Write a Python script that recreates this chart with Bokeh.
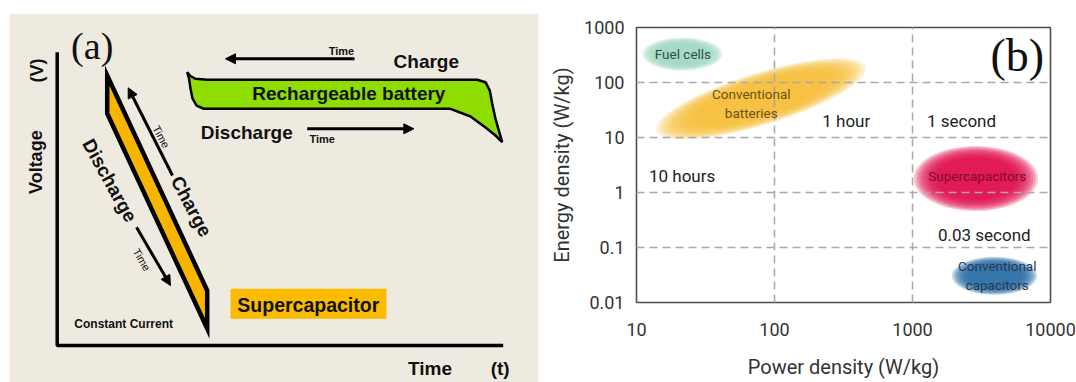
import numpy as np
from bokeh.plotting import figure
from bokeh.layouts import row
from bokeh.models import Range1d, FixedTicker, Arrow, NormalHead, ColumnDataSource
from bokeh.core.properties import value
from bokeh.embed import file_html
from bokeh.resources import INLINE

# ================= Panel (b) data : Ragone plot =================
power_ticks = [10, 100, 1000, 10000]
power_tick_labels = ["10", "100", "1000", "10000"]
energy_ticks = [0.01, 0.1, 1, 10, 100, 1000]
energy_tick_labels = ["0.01", "0.1", "1", "10", "100", "1000"]

# axis-aligned device regions (power W/kg, energy Wh/kg)
region_names = ["Fuel cells", "Supercapacitors", "Conventional capacitors"]
region_power_lo = [11, 1020, 1930]
region_power_hi = [42, 8100, 7990]
region_energy_lo = [164, 0.46, 0.0138]
region_energy_hi = [655, 7.0, 0.0677]
region_colors = ["#a3d9c6", "#e3124f", "#2f6fa7"]

# conventional batteries: elongated region between two end points
battery_power_ends = [14.0, 456]
battery_energy_ends = [13.2, 193]
battery_color = "#f6c13c"

# time-constant annotations
time_labels = ["10 hours", "1 hour", "1 second", "0.03 second"]
time_label_power = [21.4, 331, 2265, 3311]
time_label_energy = [2.01, 20.1, 20.1, 0.168]

# region labels
region_label_text = ["Fuel cells", "Conventional", "batteries",
                     "Supercapacitors", "Conventional", "capacitors"]
region_label_power = [21.7, 67.9, 67.9, 2944, 4111, 4111]
region_label_energy = [336, 61.5, 27.8, 2.01, 0.0465, 0.021]
region_label_colors = ["#2f4f4a", "#6b5214", "#6b5214",
                       "#7d0d2b", "#243a55", "#243a55"]

# ================= Panel (a) data : schematic (panel pixels) =================
battery_x = [186.7, 190, 195, 206.7, 476.7, 485, 489.3, 491.7, 495, 499.3, 501.7,
             495, 485, 470, 450, 203.3, 196, 192, 190, 188.5]
battery_y = [71.7, 75.5, 78.3, 79.3, 79.3, 81.7, 90, 103.3, 118.3, 133.3, 141.7,
             135, 127, 116, 108.3, 108.3, 105, 98, 88, 78]
supercap_x = [106.7, 206.7, 206.7, 106.7]
supercap_y = [75, 290, 328, 113]
axis_x = [56.7, 56.7, 502.7]
axis_y = [51.7, 345, 345]
arrow_x_start = [354, 306.7, 172, 136]
arrow_y_start = [58.3, 128.3, 175, 226.7]
arrow_x_end = [225, 413.3, 127.7, 170]
arrow_y_end = [58.3, 128.3, 87.3, 285]

W, H = 1076, 382
WA = 540

# ================= Panel (a) =================
pa = figure(width=WA, height=H, x_range=Range1d(0, WA), y_range=Range1d(H, 0),
            output_backend="svg", toolbar_location=None, min_border=0,
            x_axis_location=None, y_axis_location=None)
pa.frame_align = False
pa.grid.visible = False
pa.outline_line_color = None
pa.background_fill_color = "white"
pa.border_fill_color = "white"

pa.quad(left=[9], right=[538], top=[13.3], bottom=[H], fill_color="#eeeae0", line_color=None)

pa.line(axis_x, axis_y, line_color="black", line_width=3.5)
pa.patch(battery_x, battery_y, fill_color="#8fdd00", line_color="black", line_width=2.5)
pa.patch(supercap_x, supercap_y, fill_color="#f7b500", line_color="black", line_width=4.5,
         line_join="miter")
pa.quad(left=[230], right=[386], top=[288.3], bottom=[318.3], fill_color="#fbbb00", line_color=None)

asrc = ColumnDataSource(dict(xs=arrow_x_start, ys=arrow_y_start, xe=arrow_x_end, ye=arrow_y_end))
pa.add_layout(Arrow(end=NormalHead(size=10, fill_color="black", line_color="black", line_width=1),
                    x_start="xs", y_start="ys", x_end="xe", y_end="ye", source=asrc,
                    line_width=3, line_color="black"))

SANS = value("Liberation Sans")
def atext(x, y, t, size, style="bold", angle=0.0, font=SANS, baseline="middle"):
    pa.text(x=[x], y=[y], text=[t], text_font=font, text_font_size=size,
            text_font_style=style, angle=angle, text_align="center",
            text_baseline=baseline, text_color="#111111")

atext(91.7, 45.8, "(a)", "38px", style="normal", font=value("Liberation Serif"))
atext(35, 161.7, "Voltage", "18px", angle=np.pi / 2)
atext(36, 70, "(V)", "18px", angle=np.pi / 2)
atext(425.8, 60.7, "Charge", "19px")
atext(341, 50, "Time", "11px")
atext(348.3, 93.3, "Rechargeable battery", "19px")
atext(246.3, 131.7, "Discharge", "19px")
atext(321.7, 138.3, "Time", "11px")
atext(160.8, 136.2, "Time", "11px", style="normal", angle=np.radians(-62))
atext(190.8, 205.8, "Charge", "19px", angle=np.radians(-62))
atext(109.2, 180, "Discharge", "19px", angle=np.radians(-61))
atext(141.3, 259.2, "Time", "11px", style="normal", angle=np.radians(-60))
atext(123.2, 323.3, "Constant Current", "12px")
atext(307.8, 304, "Supercapacitor", "19.5px")
atext(429.5, 368, "Time", "19px")
atext(499.7, 368, "(t)", "19px")

# ================= Panel (b) =================
pb = figure(width=W - WA, height=H, x_axis_type="log", y_axis_type="log",
            x_range=Range1d(10, 10000), y_range=Range1d(0.01, 1000),
            output_backend="svg", toolbar_location=None,
            min_border_left=96, min_border_right=26, min_border_top=27, min_border_bottom=80,
            x_axis_label="Power density (W/kg)", y_axis_label="Energy density (W/kg)")
pb.frame_align = False
pb.background_fill_color = "white"
pb.border_fill_color = "white"
pb.outline_line_color = "#4d4d4d"
pb.outline_line_width = 1.6

FX = 414 / 3.0   # pixels per decade (x)
FY = 275 / 5.0   # pixels per decade (y)
tt = np.linspace(0, 2 * np.pi, 120)

def blurred_ellipse(cx, cy, a_px, b_px, ang, color, layers=11):
    for s in np.linspace(1.0, 0.62, layers):
        ex = a_px * s * np.cos(tt)
        ey = b_px * s * np.sin(tt)
        rx = ex * np.cos(ang) - ey * np.sin(ang)
        ry = ex * np.sin(ang) + ey * np.cos(ang)
        pb.patch(10 ** (cx + rx / FX), 10 ** (cy + ry / FY), fill_color=color,
                 fill_alpha=0.24, line_color=None)

for plo, phi, elo, ehi, col in zip(region_power_lo, region_power_hi,
                                   region_energy_lo, region_energy_hi, region_colors):
    cx = (np.log10(plo) + np.log10(phi)) / 2
    cy = (np.log10(elo) + np.log10(ehi)) / 2
    a = (np.log10(phi) - np.log10(plo)) / 2 * FX
    b = (np.log10(ehi) - np.log10(elo)) / 2 * FY
    blurred_ellipse(cx, cy, a, b, 0.0, col)

lx = np.log10(battery_power_ends)
ly = np.log10(battery_energy_ends)
dx = (lx[1] - lx[0]) * FX
dy = (ly[1] - ly[0]) * FY
blurred_ellipse(lx.mean(), ly.mean(), np.hypot(dx, dy) / 2, 26, np.arctan2(dy, dx), battery_color)

pb.xaxis.ticker = FixedTicker(ticks=power_ticks)
pb.yaxis.ticker = FixedTicker(ticks=energy_ticks)
pb.xgrid.ticker = FixedTicker(ticks=power_ticks)
pb.ygrid.ticker = FixedTicker(ticks=energy_ticks)
pb.xaxis.major_label_overrides = dict(zip(power_ticks, power_tick_labels))
pb.yaxis.major_label_overrides = dict(zip(energy_ticks, energy_tick_labels))

for g in (pb.xgrid[0], pb.ygrid[0]):
    g.grid_line_color = "#a9a9a9"
    g.grid_line_dash = "8 5"
    g.grid_line_width = 1.5
    g.level = "guide"

for ax in (pb.xaxis[0], pb.yaxis[0]):
    ax.axis_line_color = None
    ax.major_tick_line_color = None
    ax.minor_tick_line_color = None
    ax.major_tick_out = 0
    ax.major_tick_in = 0
    ax.minor_tick_out = 0
    ax.minor_tick_in = 0
    ax.major_label_text_font = "Roboto"
    ax.major_label_text_font_size = "18px"
    ax.major_label_text_color = "#333333"
    ax.axis_label_text_font = "Roboto"
    ax.axis_label_text_font_size = "20px"
    ax.axis_label_text_font_style = "normal"
    ax.axis_label_text_color = "#333333"
pb.xaxis[0].major_label_standoff = 20
pb.xaxis[0].axis_label_standoff = 16
pb.yaxis[0].major_label_standoff = 12
pb.yaxis[0].axis_label_standoff = 7

pb.text(x=time_label_power, y=time_label_energy, text=time_labels,
        text_font=value("Roboto"), text_font_size="17px", text_color="#222222",
        text_align="center", text_baseline="middle", level="overlay")
pb.text(x=region_label_power, y=region_label_energy, text=region_label_text,
        text_font=value("Roboto"), text_font_size="13.5px", text_color=region_label_colors,
        text_align="center", text_baseline="middle", level="overlay")
pb.text(x=[5741], y=[305], text=["(b)"], text_font=value("Liberation Serif"),
        text_font_size="46px", text_color="#111111", text_align="center",
        text_baseline="middle", level="overlay")

layout = row(pa, pb)
open("out.html", "w").write(file_html(layout, INLINE))
